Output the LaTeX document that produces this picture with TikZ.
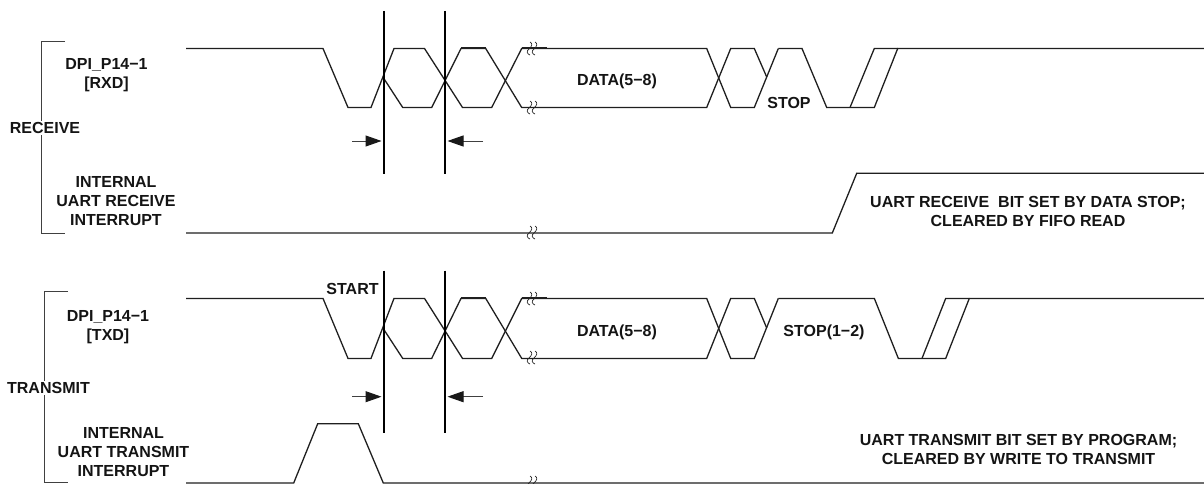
\documentclass[tikz,border=0pt]{standalone}
\usepackage{fontspec}
\setmainfont{Liberation Sans}
\usetikzlibrary{arrows.meta}
\tikzset{
  wave/.style={draw=black!88,line width=1.3pt,line join=miter},
  bracket/.style={draw=black!75,line width=1pt},
  cursor/.style={draw=black,line width=1.8pt},
  dim/.style={draw=black!75,line width=1pt,-{Triangle[length=16pt,width=11pt,color=black!90]}},
  lbl/.style={font=\fontsize{16pt}{19pt}\selectfont\bfseries,text=black!92,align=center,inner sep=0pt},
  brk/.style={lbl,fill=white,inner sep=1pt},
  squig/.style={draw=black!85,line width=0.7pt}
}
\newcommand{\brkmark}[2]{%
  \draw[squig] (#1+3,#2-7) .. controls (#1+6,#2-5) and (#1+5,#2-3) .. (#1+2,#2) .. controls (#1-1,#2+2) and (#1,#2+5) .. (#1+3,#2+6);
  \draw[squig] (#1+8,#2-7) .. controls (#1+11,#2-5) and (#1+10,#2-3) .. (#1+7,#2) .. controls (#1+4,#2+2) and (#1+5,#2+5) .. (#1+8,#2+6);
}
\newcommand{\minwave}[3]{% #1 high y, #2 low y, #3 mid y
  \draw[wave] (186,#1) -- (323,#1) -- (348,#2) -- (371,#2) -- (394,#1) -- (424.5,#1) -- (462.5,#2) -- (491.7,#2) -- (521.7,#1) -- (546.7,#1) -- (706.7,#1) -- (730.7,#2) -- (754.3,#2) -- (778.3,#1);
  \draw[wave] (383.5,#3) -- (402.7,#2) -- (431.7,#2) -- (461,#1) -- (485.7,#1) -- (521.7,#2) -- (706.7,#2) -- (730.7,#1) -- (754.3,#1) -- (766.7,#3-1);
  \draw[wave,line width=2pt] (521.7,#1) -- (546.7,#1);
  \draw[wave,line width=2pt] (461,#1) -- (485.7,#1);
}
\begin{document}
\begin{tikzpicture}[x=1pt,y=-1pt]
\useasboundingbox (0,0) rectangle (1204,484);
% receive section
\draw[bracket] (65,42) -- (41,42) -- (41,233) -- (65,233);
\node[brk] (rxlab) at (45,128) {RECEIVE};
\minwave{48.5}{107.5}{78}
\draw[wave] (778.3,48.5) -- (802,48.5) -- (826.7,107.5) -- (874.3,107.5) -- (897.7,48.5) -- (1204,48.5);
\draw[wave] (850,107.5) -- (874.3,48.5) -- (897.7,48.5);
\draw[wave] (186,233) -- (832.3,233) -- (856.7,173.3) -- (1204,173.3);
\coordinate (rc1t) at (384.3,11); \coordinate (rc1b) at (384.3,174);
\coordinate (rc2t) at (445,11); \coordinate (rc2b) at (445,174);
\draw[cursor] (rc1t) -- (rc1b);
\draw[cursor] (rc2t) -- (rc2b);
\coordinate (ra1) at (352,141); \coordinate (ra1e) at (381.5,141);
\coordinate (ra2) at (483,141); \coordinate (ra2e) at (447.5,141);
\draw[dim] (ra1) -- (ra1e);
\draw[dim] (ra2) -- (ra2e);
\brkmark{527}{49} \brkmark{527}{108} \brkmark{527}{233}
\node[lbl] (rxname) at (106.5,75.5) {DPI\_P14−1\\{}[RXD]};
\node[lbl] (rxint) at (116,201.5) {INTERNAL\\UART RECEIVE\\INTERRUPT};
\node[lbl] (rxdata) at (617,81.5) {DATA(5−8)};
\node[lbl] (rxstop) at (789,103.3) {STOP};
\node[lbl] (rxnote) at (1028,211.5) {UART RECEIVE\ \ BIT SET BY DATA STOP;\\CLEARED BY FIFO READ};
% transmit section
\draw[bracket] (68,291.7) -- (44.7,291.7) -- (44.7,482.3) -- (68,482.3);
\node[brk] (txlab) at (48.5,388) {TRANSMIT};
\minwave{298.4}{358.4}{329}
\draw[wave] (778.3,298.4) -- (874.3,298.4) -- (898.3,358.4) -- (945.7,358.4) -- (969.3,298.4) -- (1204,298.4);
\draw[wave] (922,358.4) -- (945.7,298.4) -- (969.3,298.4);
\draw[wave] (186,483) -- (293.7,483) -- (317.7,423.7) -- (358.3,423.7) -- (383.3,483) -- (1204,483);
\coordinate (tc1t) at (384.3,270.7); \coordinate (tc1b) at (384.3,433);
\coordinate (tc2t) at (445,270.7); \coordinate (tc2b) at (445,433);
\draw[cursor] (tc1t) -- (tc1b);
\draw[cursor] (tc2t) -- (tc2b);
\coordinate (ta1) at (352,396.7); \coordinate (ta1e) at (381.5,396.7);
\coordinate (ta2) at (483,396.7); \coordinate (ta2e) at (447.5,396.7);
\draw[dim] (ta1) -- (ta1e);
\draw[dim] (ta2) -- (ta2e);
\brkmark{527}{299} \brkmark{527}{358} \brkmark{527}{483}
\node[lbl] (txname) at (108,327) {DPI\_P14−1\\{}[TXD]};
\node[lbl] (txint) at (123.5,452.5) {INTERNAL\\UART TRANSMIT\\INTERRUPT};
\node[lbl] (txstart) at (352.5,289.3) {START};
\node[lbl] (txdata) at (617,332) {DATA(5−8)};
\node[lbl] (txstop) at (824,332.7) {STOP(1−2)};
\node[lbl] (txnote) at (1018.5,449.5) {UART TRANSMIT BIT SET BY PROGRAM;\\CLEARED BY WRITE TO TRANSMIT};
\end{tikzpicture}
\end{document}
